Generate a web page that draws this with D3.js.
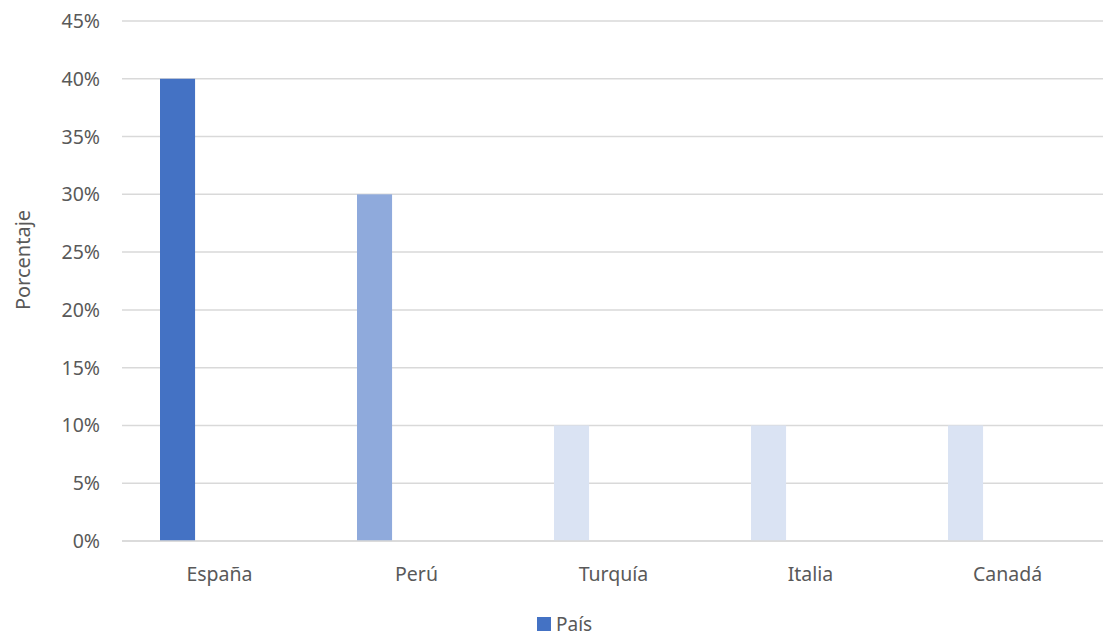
<!DOCTYPE html>
<html>
<head>
<meta charset="utf-8">
<script src="https://cdn.jsdelivr.net/npm/d3@7"></script>
<style>
  body { margin: 0; background: #fff; }
  text { font-family: "Noto Sans", "Open Sans", sans-serif; fill: #595959; }
</style>
</head>
<body>
<div id="graph"></div>
<script>
var paises = ['España', 'Perú', 'Turquía', 'Italia', 'Canadá']
var valores = [0.40, 0.30, 0.10, 0.10, 0.10]
var colores = ['#4472C4', '#8FAADC', '#DAE3F3', '#DAE3F3', '#DAE3F3']
var ticks = [0, 0.05, 0.10, 0.15, 0.20, 0.25, 0.30, 0.35, 0.40, 0.45]
var serie = 'País'

var width = 1103, height = 637

var svg = d3.select('#graph').append('svg')
  .attr('width', width).attr('height', height)

var x = d3.scaleBand().domain(paises).range([121, 1106])
var y = d3.scaleLinear().domain([0, 0.45]).range([541, 21])

// gridlines
svg.append('g').selectAll('line').data(ticks).join('line')
  .attr('x1', 122).attr('x2', width)
  .attr('y1', d => y(d)).attr('y2', d => y(d))
  .attr('stroke', '#d9d9d9').attr('stroke-width', 1.5)

// y tick labels
svg.append('g').selectAll('text').data(ticks).join('text')
  .attr('x', 100).attr('y', d => y(d))
  .attr('dy', '0.36em')
  .attr('text-anchor', 'end')
  .attr('font-size', 19.5)
  .text(d3.format('.0%'))

// bars (left slot of each category, as in a clustered layout)
var bw = x.bandwidth()
svg.append('g').selectAll('rect').data(paises).join('rect')
  .attr('x', d => x(d) + bw * 0.198)
  .attr('width', bw * 0.178)
  .attr('y', (d, i) => y(valores[i]))
  .attr('height', (d, i) => y(0) - y(valores[i]))
  .attr('fill', (d, i) => colores[i])

// baseline
svg.append('line')
  .attr('x1', 122).attr('x2', width)
  .attr('y1', y(0)).attr('y2', y(0))
  .attr('stroke', '#d9d9d9').attr('stroke-width', 1.5)

// x labels
svg.append('g').selectAll('text').data(paises).join('text')
  .attr('x', d => x(d) + bw / 2).attr('y', 581)
  .attr('text-anchor', 'middle')
  .attr('font-size', 19.5)
  .text(d => d)

// y title
svg.append('text')
  .attr('transform', 'translate(30,260) rotate(-90)')
  .attr('text-anchor', 'middle')
  .attr('font-size', 20)
  .text('Porcentaje')

// legend
svg.append('rect')
  .attr('x', 537).attr('y', 617).attr('width', 14).attr('height', 14)
  .attr('fill', colores[0])
svg.append('text')
  .attr('x', 556).attr('y', 631)
  .attr('font-size', 19)
  .text(serie)
</script>
</body>
</html>
